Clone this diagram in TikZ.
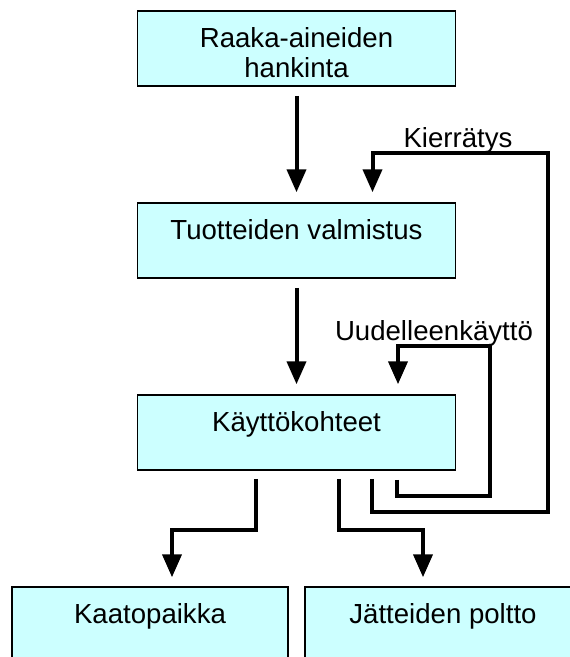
\documentclass[tikz,border=0pt]{standalone}
\usepackage{fontspec}
\setmainfont{Liberation Sans}
\usetikzlibrary{arrows.meta,positioning}
\definecolor{boxcyan}{RGB}{204,255,255}

\begin{document}
\begin{tikzpicture}[x=1pt,y=-1pt,>={Triangle[width=19pt,length=23pt]},
  node distance=192pt and 146.5pt,on grid,
  main node/.style={rectangle,draw=black,line width=1.5pt,fill=boxcyan,
    minimum width=318pt,minimum height=75pt,inner sep=0pt,
    text height=36pt,text depth=39pt,align=center,
    font=\fontsize{27.6pt}{30pt}\selectfont},
  loop label/.style={inner sep=0pt,anchor=base,font=\fontsize{27.6pt}{30pt}\selectfont},
  flow/.style={->,line width=4pt}]

  \useasboundingbox (0,0) rectangle (570,657);
  \clip (0,0) rectangle (570,657);

  \node[main node,text height=66pt,text depth=9pt] (1) at (296.5,48.5) {Raaka-aineiden\\hankinta};
  \node[main node] (2) [below=of 1] {Tuotteiden valmistus};
  \node[main node] (3) [below=of 2] {Käyttökohteet};
  \node[main node,minimum width=276pt] (4) [below left=of 3] {Kaatopaikka};
  \node[main node,minimum width=276pt] (5) [below right=of 3] {Jätteiden poltto};

  \node[loop label] (6) at (458,147) {Kierrätys};
  \node[loop label] (7) at (434,340) {Uudelleenkäyttö};

  \path (1) edge[flow,shorten <=9pt,shorten >=10pt] (2)
        (2) edge[flow,shorten <=9pt,shorten >=10pt] (3);

  % kierratys ja uudelleenkaytto
  \draw[flow] ([xshift=75.5pt,yshift=-8pt]3.south) -- ++(0,33) -| (548,153)
    -| ([xshift=76pt,yshift=10pt]2.north);
  \draw[flow] ([xshift=100.5pt,yshift=-9pt]3.south) -- ++(0,16) -| (490,346)
    -| ([xshift=101.5pt,yshift=10pt]3.north);

  % loppusijoitus
  \draw[flow] ([xshift=-40.5pt,yshift=-8pt]3.south) -- ++(0,51)
    -| ([xshift=22pt,yshift=9pt]4.north);
  \draw[flow] ([xshift=42.5pt,yshift=-8pt]3.south) -- ++(0,51)
    -| ([xshift=-20pt,yshift=9pt]5.north);
\end{tikzpicture}
\end{document}
